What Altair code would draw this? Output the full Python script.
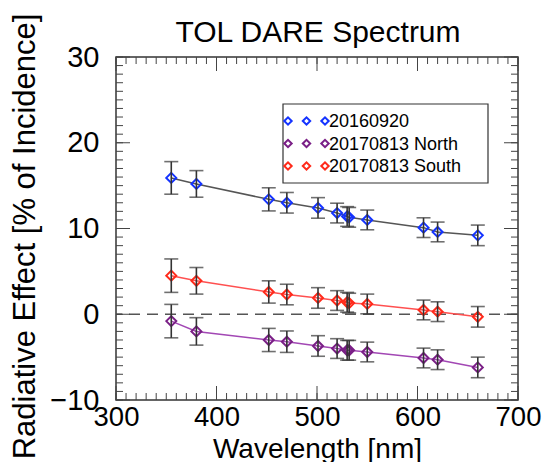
import altair as alt
import pandas as pd

# ---------------- data ----------------
chart_title = "TOL DARE Spectrum"
wavelengths = [355, 380, 452, 470, 501, 520, 530, 532, 550, 606, 620, 660]
series_names = ["20160920", "20170813 North", "20170813 South"]
dare_20160920 = [15.9, 15.2, 13.4, 13.0, 12.4, 11.8, 11.4, 11.3, 11.0, 10.1, 9.6, 9.2]
dare_north = [-0.8, -2.0, -3.0, -3.2, -3.7, -4.0, -4.2, -4.2, -4.4, -5.1, -5.3, -6.2]
dare_south = [4.5, 3.9, 2.6, 2.3, 1.9, 1.6, 1.4, 1.3, 1.2, 0.5, 0.3, -0.3]
err_20160920 = [1.9, 1.55, 1.35, 1.2, 1.2, 1.15, 1.15, 1.15, 1.15, 1.15, 1.15, 1.2]
err_north = [1.95, 1.6, 1.35, 1.25, 1.2, 1.15, 1.15, 1.15, 1.15, 1.15, 1.15, 1.2]
err_south = [1.95, 1.55, 1.3, 1.2, 1.2, 1.15, 1.15, 1.15, 1.15, 1.15, 1.15, 1.2]
x_major = [300, 400, 500, 600, 700]
y_major = [-10, 0, 10, 20, 30]
x_minor = list(range(300, 701, 10))
y_minor = list(range(-10, 31, 1))

# ---------------- styles ----------------
W, H = 402, 343
FONT = "Liberation Sans"
marker_colors = ["#1433ff", "#7a1f86", "#ff2a1a"]
line_colors = ["#555555", "#a247b4", "#ff5050"]
values_all = [dare_20160920, dare_north, dare_south]
errs_all = [err_20160920, err_north, err_south]

x_scale = alt.Scale(domain=[300, 700], nice=False, zero=False)
y_scale = alt.Scale(domain=[-10, 30], nice=False, zero=False)

x_axis = alt.Axis(values=x_major, title="Wavelength [nm]", grid=False, domain=False,
                  ticks=False, tickSize=0, labelFlush=False, labelOverlap=False,
                  labelFontSize=27.5, labelFont=FONT, labelColor="black", labelPadding=3,
                  titleFontSize=28, titleFont=FONT, titleFontWeight="normal",
                  titleColor="black", titleY=57, titleBaseline="alphabetic")
y_axis = alt.Axis(values=y_major, title="Radiative Effect [% of Incidence]", grid=False,
                  domain=False, ticks=False, tickSize=0, labelOverlap=False,
                  labelFontSize=29, labelFont=FONT, labelColor="black", labelPadding=17,
                  titleFontSize=31, titleFont=FONT, titleFontWeight="normal",
                  titleColor="black", titleAngle=270, titleX=-82, titleY=179,
                  titleAlign="center", titleBaseline="alphabetic")


def X(field):
    return alt.X(f"{field}:Q", scale=x_scale, axis=x_axis)


def Y(field):
    return alt.Y(f"{field}:Q", scale=y_scale, axis=y_axis)


layers = []

# zero reference line
zero_df = pd.DataFrame({"z": [0]})
layers.append(alt.Chart(zero_df).mark_rule(color="#555555", strokeWidth=1.5,
                                           strokeDash=[11, 7]).encode(y=Y("z")))

for name, vals, errs, mc, lc in zip(series_names, values_all, errs_all,
                                    marker_colors, line_colors):
    df = pd.DataFrame({
        "wl": wavelengths,
        "v": vals,
        "lo": [v - e for v, e in zip(vals, errs)],
        "hi": [v + e for v, e in zip(vals, errs)],
        "series": name,
    })
    base = alt.Chart(df)
    layers.append(base.mark_line(color=lc, strokeWidth=1.5).encode(x=X("wl"), y=Y("v")))
    layers.append(base.mark_point(shape="diamond", filled=False, size=100, strokeWidth=2,
                                  color=mc, opacity=1).encode(x=X("wl"), y=Y("v")))
    layers.append(base.mark_rule(color="#333333", strokeWidth=1.6).encode(
        x=X("wl"), y=Y("lo"), y2=alt.Y2("hi")))
    for cap in ["lo", "hi"]:
        layers.append(base.mark_tick(orient="horizontal", size=14, thickness=1.6,
                                     color="#333333").encode(x=X("wl"), y=Y(cap)))

# inward ticks on all four sides
MAJ, MIN = 14, 7
tick_color = "#444444"
for vals_t, ln in [(x_minor, MIN), (x_major, MAJ)]:
    tdf = pd.DataFrame({"t": vals_t})
    layers.append(alt.Chart(tdf).mark_rule(color=tick_color, strokeWidth=1).encode(
        x=X("t"), y=alt.value(H), y2=alt.value(H - ln)))
    layers.append(alt.Chart(tdf).mark_rule(color=tick_color, strokeWidth=1).encode(
        x=X("t"), y=alt.value(0), y2=alt.value(ln)))
for vals_t, ln in [(y_minor, MIN), (y_major, MAJ)]:
    tdf = pd.DataFrame({"t": vals_t})
    layers.append(alt.Chart(tdf).mark_rule(color=tick_color, strokeWidth=1).encode(
        y=Y("t"), x=alt.value(0), x2=alt.value(ln)))
    layers.append(alt.Chart(tdf).mark_rule(color=tick_color, strokeWidth=1).encode(
        y=Y("t"), x=alt.value(W), x2=alt.value(W - ln)))

# legend (IDL style: three symbols then label)
box_df = pd.DataFrame({"k": [0]})
layers.append(alt.Chart(box_df).mark_rect(fill="white", stroke="#333333",
                                          strokeWidth=1.2).encode(
    x=alt.value(167), x2=alt.value(372), y=alt.value(47), y2=alt.value(126)))
for i, (name, mc) in enumerate(zip(series_names, marker_colors)):
    ry = 64 + 22.5 * i
    ldf = pd.DataFrame({"label": [name]})
    for sx in [172, 190.5, 209]:
        layers.append(alt.Chart(ldf).mark_point(shape="diamond", filled=False, size=55,
                                                strokeWidth=2, color=mc, opacity=1).encode(
            x=alt.value(sx), y=alt.value(ry)))
    layers.append(alt.Chart(ldf).mark_text(align="left", baseline="middle", fontSize=18,
                                           font=FONT, color="black").encode(
        x=alt.value(213), y=alt.value(ry + 1), text="label:N"))

# chart title above the plot frame
title_df = pd.DataFrame({"title": [chart_title]})
layers.append(alt.Chart(title_df).mark_text(align="center", baseline="alphabetic",
                                            fontSize=30, font=FONT, color="black").encode(
    x=alt.value(W / 2 + 1), y=alt.value(-15), text="title:N"))

chart = alt.layer(*layers).properties(
    width=W,
    height=H,
    padding={"left": 108, "top": 49, "right": 24, "bottom": 62},
    autosize=alt.AutoSizeParams(type="none"),
).configure_view(stroke="#333333", strokeWidth=1.5)

chart.save("out.html", embed_options={"renderer": "svg", "actions": False})
